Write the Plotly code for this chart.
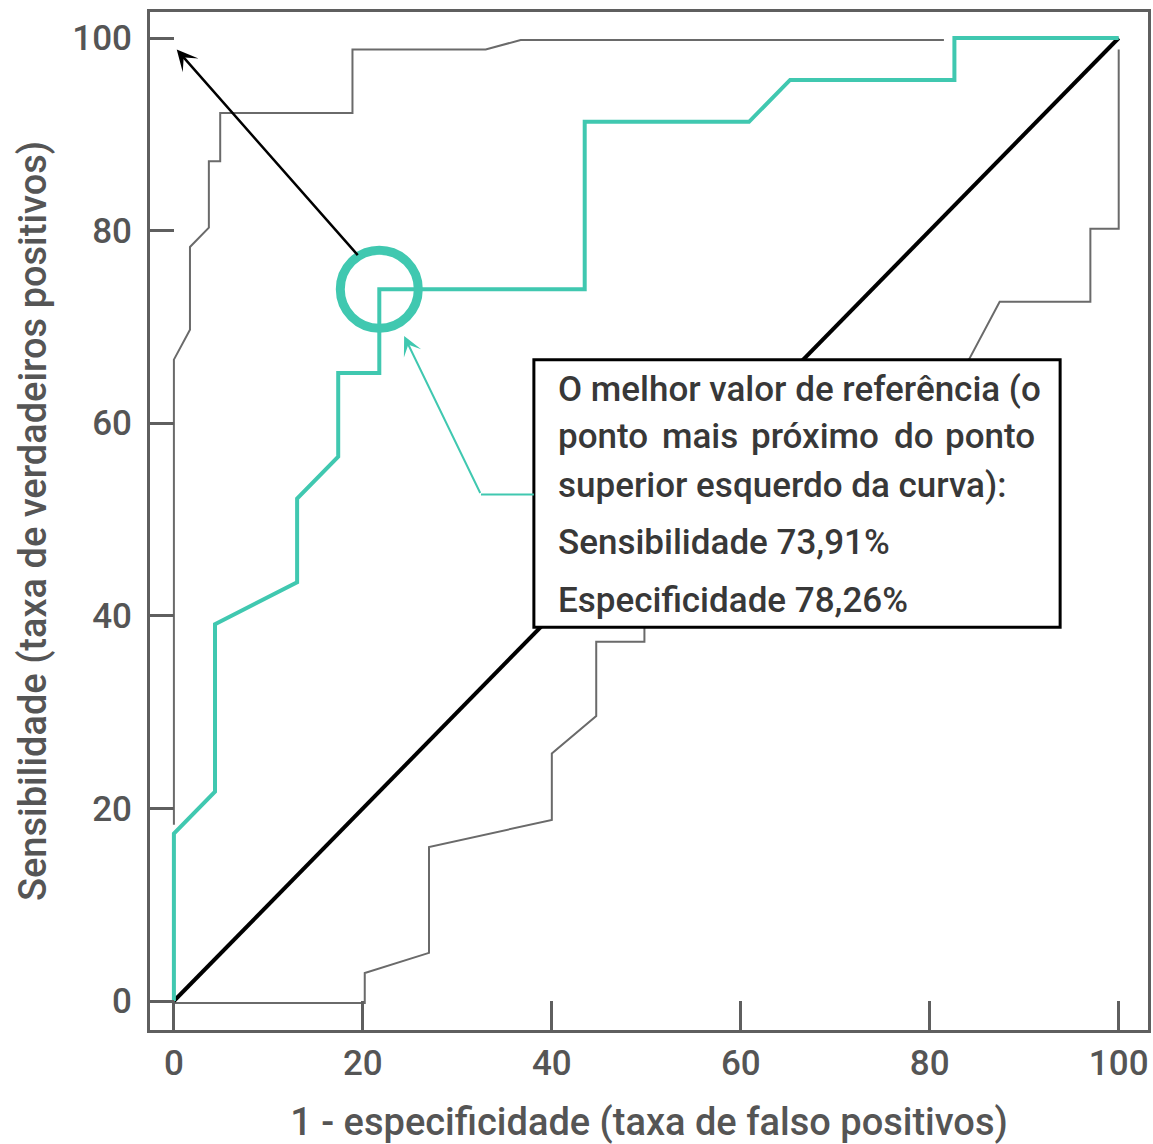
import plotly.graph_objects as go

# ROC curve: 1 - specificity (false positive rate) vs sensitivity, in %
roc_fpr = [0, 0, 4.35, 4.35, 13.04, 13.04, 17.39, 17.39, 21.74, 21.74,
           43.48, 43.48, 60.87, 65.22, 82.61, 82.61, 100]
roc_tpr = [0, 17.39, 21.74, 39.13, 43.48, 52.17, 56.52, 65.22, 65.22, 73.91,
           73.91, 91.30, 91.30, 95.65, 95.65, 100, 100]

# Upper confidence limit of the curve
upper_fpr = [0, 0, 1.7, 1.7, 3.7, 3.7, 4.9, 4.9, 18.9, 18.9, 33.0, 36.7, 81.5]
upper_tpr = [18.3, 66.6, 69.7, 78.3, 80.3, 87.2, 87.2, 92.2, 92.2, 98.8, 98.8, 99.8, 99.8]

# Lower confidence limit of the curve
lower_fpr = [0, 20.2, 20.2, 27.0, 27.0, 40.0, 40.0, 44.7, 44.7, 49.8, 49.8,
             84.2, 87.4, 97.0, 97.0, 100, 100]
lower_tpr = [-0.2, -0.2, 2.9, 5.0, 16.0, 18.8, 25.7, 29.6, 37.3, 37.3, 40.0,
             66.7, 72.6, 72.6, 80.2, 80.2, 98.8]

# Reference line (random classifier)
chance_x = [0, 100]
chance_y = [0, 100]

# Best cut-off point
best_sensitivity = 73.91
best_specificity = 78.26

tick_vals = [0, 20, 40, 60, 80, 100]

TEAL = "#40c8b0"
AXIS = "#5f5f5f"
LABEL = "#555555"
TEXT = "#383838"
FONT = "Roboto"

X_RANGE = [-2.53, 103.1]
Y_RANGE = [-3.01, 102.7]
PLOT_W = 1001  # plot-area width in px

best_x = 100 - best_specificity
best_y = best_sensitivity

fig = go.Figure()

fig.add_trace(go.Scatter(x=upper_fpr, y=upper_tpr, mode="lines",
                         line=dict(color="#6a6a6a", width=2), hoverinfo="skip"))
fig.add_trace(go.Scatter(x=lower_fpr, y=lower_tpr, mode="lines",
                         line=dict(color="#6a6a6a", width=2), hoverinfo="skip"))
fig.add_trace(go.Scatter(x=chance_x, y=chance_y, mode="lines",
                         line=dict(color="black", width=4), hoverinfo="skip"))
fig.add_trace(go.Scatter(x=roc_fpr, y=roc_tpr, mode="lines",
                         line=dict(color=TEAL, width=4), hoverinfo="skip"))

box_x0, box_x1, box_y0, box_y1 = 38.1, 93.8, 38.8, 66.6

shapes = [
    # ring around the best cut-off point
    dict(type="circle", xref="x", yref="y", xsizemode="pixel", ysizemode="pixel",
         xanchor=best_x, yanchor=best_y, x0=-39, x1=39, y0=-39, y1=39,
         line=dict(color=TEAL, width=9), fillcolor="rgba(0,0,0,0)", layer="above"),
    # callout box
    dict(type="rect", xref="x", yref="y", x0=box_x0, x1=box_x1, y0=box_y0, y1=box_y1,
         line=dict(color="black", width=3), fillcolor="white", layer="above"),
    # leader from the box to the teal arrow
    dict(type="line", xref="x", yref="y", x0=32.5, y0=52.6, x1=box_x0, y1=52.6,
         line=dict(color=TEAL, width=2), layer="above"),
]

annotations = [
    # black arrow pointing to the ideal (0, 100) corner
    dict(x=0.3, y=98.8, ax=19.6, ay=77.3, xref="x", yref="y", axref="x", ayref="y",
         text="", showarrow=True, arrowhead=3, arrowsize=1.4, arrowwidth=2.5,
         arrowcolor="black"),
    # teal arrow from the callout to the ring
    dict(x=24.37, y=69.05, ax=32.5, ay=52.6, xref="x", yref="y", axref="x", ayref="y",
         text="", showarrow=True, arrowhead=3, arrowsize=1.6, arrowwidth=2,
         arrowcolor=TEAL),
]

BOX_SIZE = 35
box_font = dict(family=FONT, size=BOX_SIZE, color=TEXT, weight=500)
text_left = 40.4
text_right = 91.35
box_lines = [
    ("O melhor valor de referência (o", 63.45),
    ("superior esquerdo da curva):", 53.58),
    (f"Sensibilidade {best_sensitivity:.2f}%".replace(".", ","), 47.66),
    (f"Especificidade {best_specificity:.2f}%".replace(".", ","), 41.64),
]
for txt, yy in box_lines:
    annotations.append(dict(x=text_left, y=yy, xref="x", yref="y", text=txt,
                            showarrow=False, xanchor="left", yanchor="middle",
                            font=box_font))

# justified second line: spread the words evenly between the text margins
px_per_unit = PLOT_W / (X_RANGE[1] - X_RANGE[0])
words = ["ponto", "mais", "próximo", "do", "ponto"]
word_em = [2.54, 2.15, 3.60, 1.12, 2.54]  # approximate advance widths (em)
word_px = [w * 1.05 * BOX_SIZE for w in word_em]
span_px = (text_right - text_left) * px_per_unit
gap_px = (span_px - sum(word_px)) / (len(words) - 1)
cursor = 0.0
for i, word in enumerate(words):
    if i == len(words) - 1:
        xx, anc = text_right, "right"
    else:
        xx, anc = text_left + cursor / px_per_unit, "left"
    annotations.append(dict(x=xx, y=58.57, xref="x", yref="y", text=word,
                            showarrow=False, xanchor=anc, yanchor="middle",
                            font=box_font))
    cursor += word_px[i] + gap_px

fig.update_layout(
    width=1153, height=1144, autosize=False,
    margin=dict(l=150, r=2, t=12, b=114),
    paper_bgcolor="white", plot_bgcolor="white",
    showlegend=False,
    shapes=shapes, annotations=annotations,
    font=dict(family=FONT, color=LABEL),
)

tick_font = dict(family=FONT, size=35, color=LABEL, weight=500)
title_font = dict(family=FONT, size=38, color=LABEL, weight=500)

fig.update_xaxes(
    range=X_RANGE, tickvals=tick_vals, ticks="inside", ticklen=29,
    tickwidth=3, tickcolor=AXIS, showline=True, linecolor=AXIS, linewidth=3,
    mirror=True, showgrid=False, zeroline=False, ticklabelstandoff=0,
    tickfont=tick_font,
    title=dict(text="1 - especificidade (taxa de falso positivos)",
               font=title_font, standoff=28),
)
fig.update_yaxes(
    range=Y_RANGE, tickvals=tick_vals, ticks="inside", ticklen=24,
    tickwidth=3, tickcolor=AXIS, showline=True, linecolor=AXIS, linewidth=3,
    mirror=True, showgrid=False, zeroline=False, ticklabelstandoff=8,
    tickfont=tick_font,
    title=dict(text="Sensibilidade (taxa de verdadeiros positivos)",
               font=title_font, standoff=15),
)

fig.write_html("out.html")
